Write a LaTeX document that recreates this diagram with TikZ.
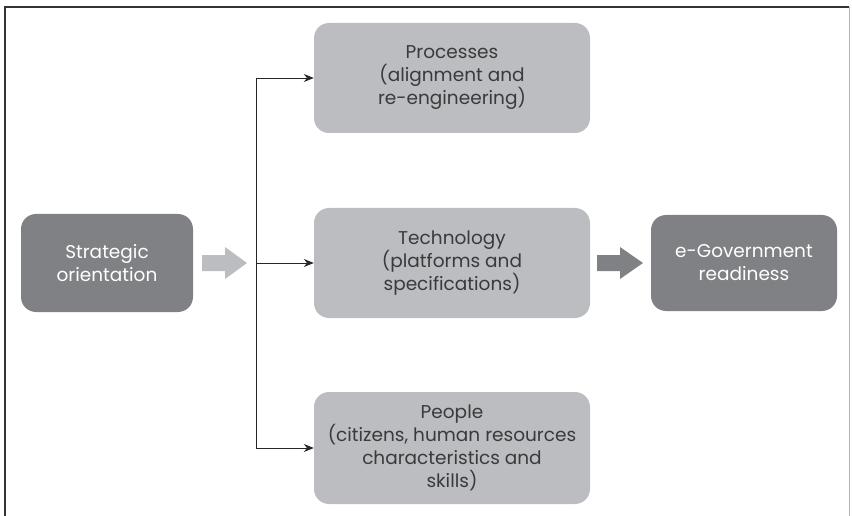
\documentclass[tikz,border=0pt]{standalone}
\usepackage{fontspec}
\setmainfont{Poppins}
\usetikzlibrary{arrows.meta}
\definecolor{darkbox}{HTML}{808184}
\definecolor{lightbox}{HTML}{BCBDC0}
\definecolor{txtdark}{HTML}{3A3A3C}
\begin{document}
\begin{tikzpicture}[x=1pt,y=-1pt,
  darkstep/.style={fill=darkbox,rounded corners=15pt,text=white,align=center,font=\fontsize{18.5}{23}\selectfont,inner sep=0pt},
  lightstep/.style={fill=lightbox,rounded corners=15pt,text=txtdark,align=center,font=\fontsize{18.5}{23}\selectfont,inner sep=0pt},
  conn/.style={line width=0.9pt,draw=black!85,-{Stealth[length=10pt,width=8pt]}}]
\useasboundingbox (0,0) rectangle (852,516);
% frame
\draw[line width=1.2pt,draw=black!80] (5,516) -- (5,7) -- (849,7);
\draw[line width=1pt,draw=black!30] (849,7) -- (849,516);
% boxes
\node[darkstep,minimum width=172pt,minimum height=98pt] (strat) at (107,263) {Strategic\\orientation};
\node[lightstep,minimum width=276pt,minimum height=110pt] (proc) at (452,78) {Processes\\(alignment and\\re-engineering)};
\node[lightstep,minimum width=276pt,minimum height=110pt] (tech) at (452,263) {Technology\\(platforms and\\specifications)};
\node[lightstep,minimum width=276pt,minimum height=112pt] (peop) at (452,448) {People\\(citizens, human resources\\characteristics and\\skills)};
\node[darkstep,minimum width=186pt,minimum height=96pt] (egov) at (744,263) {e-Government\\readiness};
% block arrows
\fill[lightbox] (202,255) -- (225,255) -- (225,247) -- (247,263) -- (225,279) -- (225,271) -- (202,271) -- cycle;
\fill[darkbox] (597,255) -- (620,255) -- (620,247) -- (643,263) -- (620,279) -- (620,271) -- (597,271) -- cycle;
% connectors
\coordinate (j) at (256,263);
\draw[conn] (j) |- (proc.west);
\draw[conn] (j) -- (tech.west);
\draw[conn] (j) |- (peop.west);
\end{tikzpicture}
\end{document}
